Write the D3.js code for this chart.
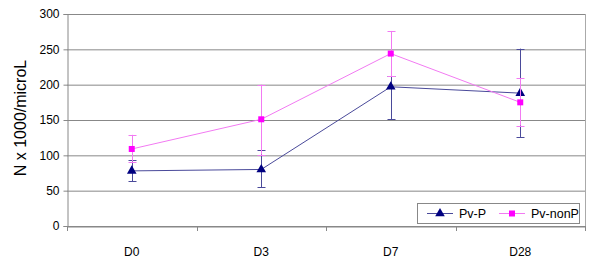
<!DOCTYPE html>
<html><head><meta charset="utf-8">
<script src="https://cdn.jsdelivr.net/npm/d3@7"></script>
<style>body{margin:0;background:#fff}svg{display:block;font-family:"Liberation Sans",Arial,sans-serif}</style>
</head><body><svg id="c" width="600" height="264"></svg>
<script>
const categories = ["D0","D3","D7","D28"];
const seriesNames = ["Pv-P","Pv-nonP"];
const pvP = [78, 80, 197, 188];
const pvPLow = [63, 55, 151, 126];
const pvPHigh = [93, 107, 212, 251];
const pvNonP = [109, 151, 244, 175];
const pvNonPLow = [91, 101, 212, 142];
const pvNonPHigh = [129, 200, 276, 209];
const yTicks = [0,50,100,150,200,250,300];
const yLabel = "N x 1000/microL";

const svg = d3.select("#c");
const L=67,R=585,T=14,B=226;
const x = d3.scaleBand().domain(categories).range([L,R]);
const y = d3.scaleLinear().domain([0,300]).range([B,T]);
const grid="#888";

// gridlines
svg.append("g").selectAll("line").data(yTicks).join("line")
  .attr("x1",L).attr("x2",R).attr("y1",d=>y(d)+0.5).attr("y2",d=>y(d)+0.5)
  .attr("stroke",grid).attr("stroke-width",1);
// right border
svg.append("line").attr("x1",R+0.5).attr("x2",R+0.5).attr("y1",T).attr("y2",B).attr("stroke","#aaa");

// y axis
const ya = svg.append("g").attr("transform",`translate(${L+0.5},0)`)
  .call(d3.axisLeft(y).tickValues(yTicks).tickSize(4).tickPadding(4));
ya.select(".domain").attr("stroke",grid);
ya.selectAll(".tick line").attr("stroke",grid);
ya.selectAll("text").attr("font-size",12).attr("fill","#000").attr("font-family","Liberation Sans, Arial");

// x axis
const xa = svg.append("g").attr("transform",`translate(0,${B+0.5})`)
  .call(d3.axisBottom(x).tickSize(0).tickPadding(21));
xa.select(".domain").attr("stroke",grid);
xa.selectAll("text").attr("font-size",12).attr("fill","#000").attr("font-family","Liberation Sans, Arial");
// between-category tick marks
const bounds = categories.map((c,i)=>x(c)).concat([R]);
svg.append("g").selectAll("line").data(bounds).join("line")
  .attr("x1",d=>Math.round(d)+0.5).attr("x2",d=>Math.round(d)+0.5)
  .attr("y1",B).attr("y2",B+5).attr("stroke",grid);

// y label
svg.append("text").attr("transform",`translate(26,118) rotate(-90)`)
  .attr("text-anchor","middle").attr("font-size",16).text(yLabel);

const cx = c => x(c)+x.bandwidth()/2;
const series = [
  {name:seriesNames[0], v:pvP, lo:pvPLow, hi:pvPHigh, color:"#000080", lineColor:"#4a4a9a", marker:"tri"},
  {name:seriesNames[1], v:pvNonP, lo:pvNonPLow, hi:pvNonPHigh, color:"#ff00ff", lineColor:"#f27af2", marker:"sq"}
];
const tri = d3.symbol().type(d3.symbolTriangle).size(40);
series.forEach(s=>{
  const g = svg.append("g");
  // error bars
  categories.forEach((c,i)=>{
    const xx = Math.round(cx(c))+0.5;
    g.append("line").attr("x1",xx).attr("x2",xx).attr("y1",y(s.lo[i])).attr("y2",y(s.hi[i])).attr("stroke",s.lineColor).attr("stroke-width",1);
    [s.lo[i],s.hi[i]].forEach(v=>g.append("line").attr("x1",xx-4).attr("x2",xx+4).attr("y1",Math.round(y(v))+0.5).attr("y2",Math.round(y(v))+0.5).attr("stroke",s.lineColor).attr("stroke-width",1));
  });
  g.append("path").datum(s.v).attr("fill","none").attr("stroke",s.lineColor).attr("stroke-width",1)
    .attr("d",d3.line().x((d,i)=>cx(categories[i])).y(d=>y(d)));
  categories.forEach((c,i)=>{
    if(s.marker==="tri") g.append("path").attr("d",tri).attr("transform",`translate(${cx(c)},${y(s.v[i])})`).attr("fill",s.color);
    else g.append("rect").attr("x",cx(c)-3).attr("y",y(s.v[i])-3).attr("width",6).attr("height",6).attr("fill",s.color);
  });
});

// legend
const lg = svg.append("g");
lg.append("rect").attr("x",417.5).attr("y",203.5).attr("width",162).attr("height",20).attr("fill","#fff").attr("stroke","#888");
const items=[{s:series[0],x0:427,tx:459},{s:series[1],x0:499,tx:531}];
items.forEach(it=>{
  const my=213.5;
  lg.append("line").attr("x1",it.x0).attr("x2",it.x0+26).attr("y1",my).attr("y2",my).attr("stroke",it.s.lineColor);
  if(it.s.marker==="tri") lg.append("path").attr("d",tri).attr("transform",`translate(${it.x0+13},${my})`).attr("fill",it.s.color);
  else lg.append("rect").attr("x",it.x0+13-3).attr("y",my-3).attr("width",6).attr("height",6).attr("fill",it.s.color);
  lg.append("text").attr("x",it.tx).attr("y",my+4.5).attr("font-size",12.5).text(it.s.name);
});
</script></body></html>
